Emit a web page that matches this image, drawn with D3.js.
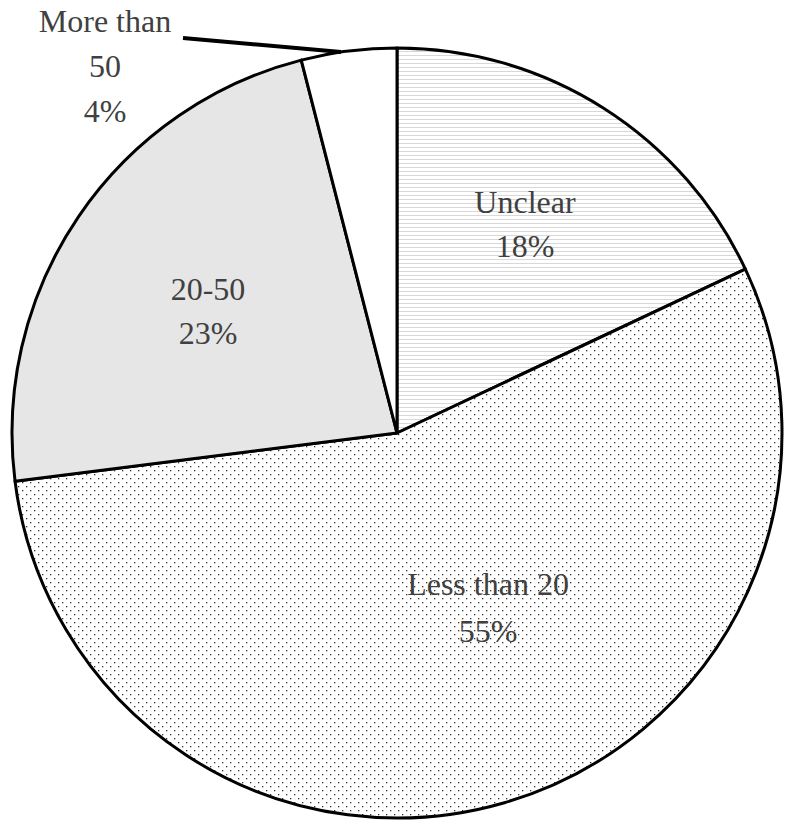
<!DOCTYPE html>
<html><head><meta charset="utf-8">
<script src="https://cdn.jsdelivr.net/npm/d3@7"></script>
<style>body{margin:0;background:#fff}</style>
</head><body>
<svg id="chart" width="794" height="832"></svg>
<script>
const categories = ["Unclear", "Less than 20", "20-50", "More than 50"];
const values = [18, 55, 23, 4];
const labelLines = [["Unclear", "18%"], ["Less than 20", "55%"], ["20-50", "23%"], ["More than", "50", "4%"]];
const fills = ["url(#hlines)", "url(#dots)", "#e6e6e6", "#fff"];

const svg = d3.select("#chart");
const cx = 397, cy = 433, r = 385;
const defs = svg.append("defs");

const hl = defs.append("pattern").attr("id", "hlines").attr("patternUnits", "userSpaceOnUse")
  .attr("width", 8).attr("height", 4);
hl.append("rect").attr("width", 8).attr("height", 4).attr("fill", "#fff");
hl.append("rect").attr("y", 2).attr("width", 8).attr("height", 1).attr("fill", "#d8d8d8");

const dp = defs.append("pattern").attr("id", "dots").attr("patternUnits", "userSpaceOnUse")
  .attr("width", 8).attr("height", 8);
dp.append("rect").attr("width", 8).attr("height", 8).attr("fill", "#fff");
dp.append("rect").attr("x", 1).attr("y", 1).attr("width", 1.3).attr("height", 1.3).attr("fill", "#333");
dp.append("rect").attr("x", 5).attr("y", 5).attr("width", 1.3).attr("height", 1.3).attr("fill", "#333");

const pie = d3.pie().sort(null).value(d => d);
const arc = d3.arc().innerRadius(0).outerRadius(r);
const arcs = pie(values);

const g = svg.append("g").attr("transform", `translate(${cx},${cy})`);
g.selectAll("path").data(arcs).join("path")
  .attr("d", arc).attr("fill", (d, i) => fills[i])
  .attr("stroke", "#000").attr("stroke-width", 3).attr("stroke-linejoin", "round");

// label positions (relative to centre, first baseline)
const labelPos = [[128, -220], [91, 162], [-189, -133], [-292, -401]];
const lineH = [44, 47, 44, 45];

labelLines.forEach((lines, i) => {
  const t = svg.append("text")
    .attr("x", cx + labelPos[i][0]).attr("y", cy + labelPos[i][1])
    .attr("text-anchor", "middle").attr("font-family", "'Liberation Serif', serif")
    .attr("font-size", 32).attr("fill", "#404040");
  lines.forEach((l, j) => t.append("tspan").attr("x", cx + labelPos[i][0]).attr("dy", j ? lineH[i] : 0).text(l));
});

// leader line for the small slice
const a = arcs[3], mid = (a.startAngle + a.endAngle) / 2;
svg.append("path")
  .attr("d", d3.line()([[183, 38], [cx + r * Math.sin(mid - 0.02), cy - r * Math.cos(mid - 0.02)]]))
  .attr("stroke", "#000").attr("stroke-width", 4).attr("fill", "none");
</script>
</body></html>
